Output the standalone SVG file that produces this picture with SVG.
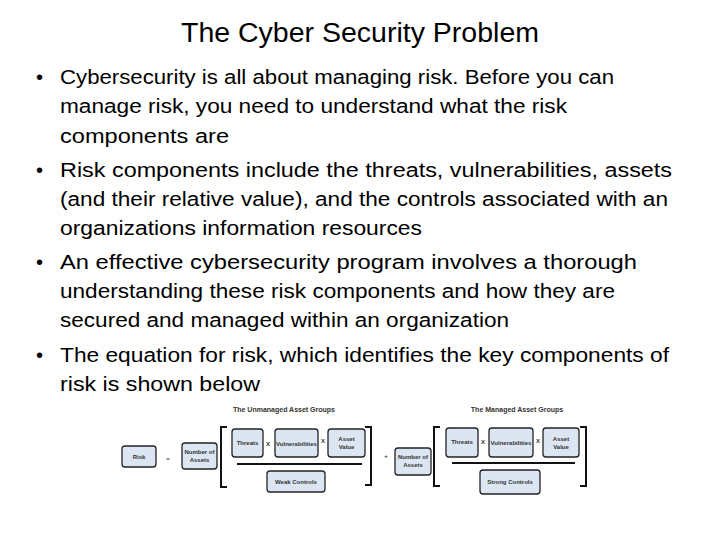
<svg xmlns="http://www.w3.org/2000/svg" width="720" height="540" viewBox="0 0 720 540">
<style>
.t{font-family:"Liberation Sans",Arial,sans-serif;fill:#000}
.b{font-size:20px}
.bx{fill:#dce6f2;stroke:#222;stroke-width:1.3}
.s{font-size:6px;text-anchor:middle;font-weight:bold;fill:#333}
.h{font-size:7px;text-anchor:middle;font-weight:bold;fill:#333}
.br{fill:none;stroke:#111;stroke-width:2}
</style>
<rect width="720" height="540" fill="#fff"/>
<text class="t" x="360" y="42" font-size="27" text-anchor="middle" textLength="358" lengthAdjust="spacingAndGlyphs">The Cyber Security Problem</text>
<g class="t b">
<text x="36" y="84">•</text><text x="60" y="84" textLength="554" lengthAdjust="spacingAndGlyphs">Cybersecurity is all about managing risk. Before you can</text>
<text x="60" y="113" textLength="507" lengthAdjust="spacingAndGlyphs">manage risk, you need to understand what the risk</text>
<text x="60" y="143" textLength="169" lengthAdjust="spacingAndGlyphs">components are</text>
<text x="36" y="177">•</text><text x="60" y="177" textLength="612" lengthAdjust="spacingAndGlyphs">Risk components include the threats, vulnerabilities, assets</text>
<text x="60" y="206" textLength="608" lengthAdjust="spacingAndGlyphs">(and their relative value), and the controls associated with an</text>
<text x="60" y="235" textLength="362" lengthAdjust="spacingAndGlyphs">organizations information resources</text>
<text x="36" y="269">•</text><text x="60" y="269" textLength="577" lengthAdjust="spacingAndGlyphs">An effective cybersecurity program involves a thorough</text>
<text x="60" y="298" textLength="555" lengthAdjust="spacingAndGlyphs">understanding these risk components and how they are</text>
<text x="60" y="327" textLength="449" lengthAdjust="spacingAndGlyphs">secured and managed within an organization</text>
<text x="36" y="362">•</text><text x="60" y="362" textLength="609" lengthAdjust="spacingAndGlyphs">The equation for risk, which identifies the key components of</text>
<text x="60" y="391" textLength="200" lengthAdjust="spacingAndGlyphs">risk is shown below</text>
</g>
<g id="equation" class="t">
<text class="h" x="284" y="412">The Unmanaged Asset Groups</text>
<text class="h" x="517" y="412">The Managed Asset Groups</text>
<g id="risk"><rect class="bx" x="122" y="446" width="34" height="21" rx="3"/><text class="s" x="139" y="459">Risk</text></g>
<text class="s" x="168" y="461" font-size="8">=</text>
<g id="num1"><rect class="bx" x="182" y="443" width="35" height="26" rx="3"/><text class="s" x="199.5" y="454">Number of</text><text class="s" x="199.5" y="462">Assets</text></g>
<path class="br" d="M227 427H221V487H227M365 427H371V485H365"/>
<g id="threats1"><rect class="bx" x="232" y="429" width="31" height="28" rx="3"/><text class="s" x="247.5" y="445">Threats</text></g>
<text class="s" x="268" y="446">X</text>
<g id="vuln1"><rect class="bx" x="275" y="429" width="43" height="28" rx="3"/><text class="s" x="296.5" y="446">Vulnerabilities</text></g>
<text class="s" x="323" y="443">X</text>
<g id="av1"><rect class="bx" x="328" y="429" width="37" height="28" rx="3"/><text class="s" x="346.5" y="441">Asset</text><text class="s" x="346.5" y="449">Value</text></g>
<line x1="237" y1="464" x2="362" y2="464" stroke="#111" stroke-width="2"/>
<g id="weak"><rect class="bx" x="267" y="471" width="58" height="21" rx="3"/><text class="s" x="296" y="484">Weak Controls</text></g>
<text class="s" x="386" y="458" font-size="9">+</text>
<g id="num2"><rect class="bx" x="395" y="448" width="36" height="27" rx="3"/><text class="s" x="413" y="459">Number of</text><text class="s" x="413" y="467">Assets</text></g>
<path class="br" d="M440 427H434V486H440M580 427H586V486H580"/>
<g id="threats2"><rect class="bx" x="446" y="428" width="32" height="29" rx="3"/><text class="s" x="462" y="444">Threats</text></g>
<text class="s" x="483" y="444">X</text>
<g id="vuln2"><rect class="bx" x="489" y="428" width="44" height="29" rx="3"/><text class="s" x="511" y="445">Vulnerabilities</text></g>
<text class="s" x="538" y="443">X</text>
<g id="av2"><rect class="bx" x="543" y="428" width="36" height="29" rx="3"/><text class="s" x="561" y="441">Asset</text><text class="s" x="561" y="449">Value</text></g>
<line x1="452" y1="463" x2="575" y2="463" stroke="#111" stroke-width="2"/>
<g id="strong"><rect class="bx" x="480" y="470" width="60" height="24" rx="3"/><text class="s" x="510" y="484">Strong Controls</text></g>
</g>
</svg>
